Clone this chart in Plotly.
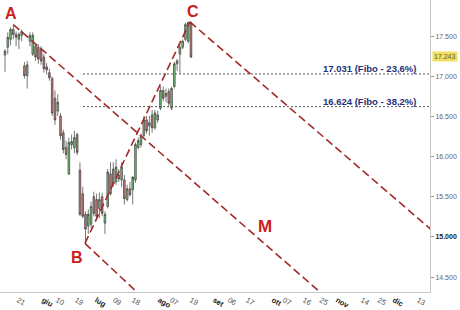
import plotly.graph_objects as go

# ---------------- data ----------------
day = list(range(68))
open_ = [17267, 17365, 17463, 17586, 17524, 17463, 17512, 17132, 17010, 17439,
         17279, 17377, 17365, 17341, 17243, 17120, 17047, 16973, 16728, 16569,
         16508, 16299, 16115, 15784, 16152, 16115, 16275, 15833, 15539, 15282,
         15135, 15159, 15502, 15466, 15356, 15502, 15172, 15380, 15784, 15846,
         15686, 15772, 15711, 15711, 15466, 15600, 15588, 15711, 16115, 16152,
         16262, 16458, 16385, 16520, 16360, 16458, 16605, 16826, 16752, 16814,
         16605, 16875, 17157, 17279, 17365, 17463, 17439, 17672]
high = [17341, 17549, 17610, 17647, 17561, 17549, 17586, 17181, 17194, 17549,
        17549, 17414, 17402, 17377, 17279, 17169, 17096, 16998, 16826, 16777,
        16544, 16336, 16201, 16238, 16275, 16324, 16299, 15931, 15625, 15319,
        15343, 15441, 15564, 15539, 15551, 15551, 15319, 15846, 15931, 15931,
        15968, 15846, 15931, 15772, 15650, 15686, 15723, 16176, 16238, 16287,
        16508, 16508, 16508, 16581, 16581, 16569, 16875, 16875, 16850, 16850,
        16875, 17181, 17218, 17402, 17463, 17672, 17684, 17684]
low = [17059, 17279, 17390, 17463, 17377, 17341, 17439, 16973, 16850, 17377,
       17255, 17194, 17157, 17145, 17047, 17022, 16948, 16508, 16397, 16508,
       16213, 16042, 15968, 15772, 16091, 16042, 16017, 15257, 15233, 14951,
       15037, 15110, 15257, 15208, 15233, 15257, 15037, 15356, 15515, 15625,
       15650, 15686, 15625, 15405, 15441, 15502, 15405, 15674, 16091, 16115,
       16238, 16287, 16262, 16299, 16336, 16422, 16581, 16691, 16679, 16630,
       16581, 16850, 17071, 17034, 17341, 17439, 17414, 17230]
close = [17316, 17488, 17586, 17524, 17488, 17524, 17561, 17010, 17145, 17512,
         17512, 17243, 17218, 17194, 17096, 17083, 16985, 16544, 16458, 16679,
         16262, 16091, 16029, 16176, 16189, 16238, 16054, 15282, 15257, 15098,
         15282, 15380, 15294, 15257, 15466, 15294, 15282, 15809, 15539, 15662,
         15870, 15723, 15870, 15478, 15600, 15527, 15748, 16152, 16201, 16262,
         16458, 16324, 16422, 16360, 16544, 16520, 16826, 16728, 16789, 16667,
         16850, 17157, 17194, 17365, 17439, 17647, 17672, 17243]

last_price = 17243
fibo_levels = [17031, 16624]
fibo_labels = ["17.031 (Fibo - 23,6%)", "16.624 (Fibo - 38,2%)"]

# trend / channel lines (endpoints in day, price)
line_A = ([2.99, 115.0], [17647, 14267])
line_BC = ([28.8, 66.6], [14920, 17680])
line_B = ([28.8, 48.2], [14920, 14290])
line_C = ([66.6, 154.0], [17680, 15077])

wave_labels = ["A", "B", "C", "M"]
wave_x = [2.2, 25.8, 67.7, 93.5]
wave_y = [17782, 14743, 17806, 15129]

x_tickvals = [4.7, 13.7, 18.7, 25.6, 32.8, 39.3, 46.1, 55.5, 59.8, 67.0, 75.3,
              80.7, 87.2, 96.5, 100.5, 107.7, 113.8, 119.6, 128.6, 134.7, 140.1, 148.8]
x_ticklabels = ["21", "giu", "10", "19", "lug", "09", "18", "ago", "07", "19", "set",
                "06", "17", "ott", "07", "16", "25", "nov", "14", "25", "dic", "13"]
months = {"giu", "lug", "ago", "set", "ott", "nov", "dic"}

y_tickvals = [14500, 15000, 15500, 16000, 16500, 17000, 17500]
y_ticklabels = ["14.500", "15.000", "15.500", "16.000", "16.500", "17.000", "17.500"]

x_range = [-1.8, 153.1]
y_range = [14314, 17953]

# ---------------- figure ----------------
FONT = "Liberation Sans, Arial, sans-serif"
LINE_RED = "#a32a2a"

fig = go.Figure()

fig.add_trace(go.Candlestick(
    x=day, open=open_, high=high, low=low, close=close,
    increasing=dict(fillcolor="#74c474", line=dict(color="#3c3c3c", width=0.7)),
    decreasing=dict(fillcolor="#c77a7a", line=dict(color="#3c3c3c", width=0.7)),
    whiskerwidth=0, showlegend=False, hoverinfo="skip",
))

for lv in fibo_levels:
    fig.add_trace(go.Scatter(
        x=[28.1, x_range[1]], y=[lv, lv], mode="lines",
        line=dict(color="#555555", width=1, dash="2px,2px"),
        showlegend=False, hoverinfo="skip"))

for lx, ly in (line_A, line_BC, line_B, line_C):
    fig.add_trace(go.Scatter(
        x=lx, y=ly, mode="lines",
        line=dict(color=LINE_RED, width=1.6, dash="8px,4px"),
        showlegend=False, hoverinfo="skip"))

for t, x, y in zip(wave_labels, wave_x, wave_y):
    fig.add_annotation(x=x, y=y, text=f"<b>{t}</b>", showarrow=False,
                       font=dict(family=FONT, size=17 if t == "M" else 16, color="#cc2020"),
                       xanchor="center", yanchor="middle")

for lv, txt, yoff in zip(fibo_levels, fibo_labels, [17096, 16691]):
    fig.add_annotation(x=148.8, y=yoff, text=f"<b>{txt}</b>", showarrow=False,
                       font=dict(family=FONT, size=9.5, color="#26307a"),
                       xanchor="right", yanchor="middle")

fig.add_annotation(xref="paper", x=1, y=last_price, text="17.243", showarrow=False,
                   xanchor="left", yanchor="middle", xshift=2,
                   bgcolor="#f0e060", borderpad=1,
                   font=dict(family=FONT, size=7, color="#5a5a3a"))

tick_text_x = [f"<b><span style='color:#222'>{t}</span></b>" if t in months else t
               for t in x_ticklabels]
tick_text_y = [f"<b><span style='color:#222'>{t}</span></b>" if t == "15.000" else t
               for t in y_ticklabels]

fig.update_layout(
    width=460, height=310,
    margin=dict(l=0, r=30, t=0, b=13, pad=0),
    paper_bgcolor="white", plot_bgcolor="white",
    font=dict(family=FONT, size=7, color="#666666"),
    boxgap=0.15,
    xaxis=dict(range=x_range, rangeslider=dict(visible=False), showgrid=False,
               zeroline=False, showline=True, linecolor="#c8c8c8", linewidth=1,
               ticks="", tickmode="array", tickvals=x_tickvals, ticktext=tick_text_x,
               tickfont=dict(size=7.5, color="#555555"), fixedrange=True),
    yaxis=dict(range=y_range, side="right", showgrid=False, zeroline=False,
               showline=True, linecolor="#c8c8c8", linewidth=1,
               ticks="outside", ticklen=3, tickcolor="#999999",
               tickmode="array", tickvals=y_tickvals, ticktext=tick_text_y,
               tickfont=dict(size=7, color="#666666"), fixedrange=True),
    showlegend=False,
)

fig.write_html("out.html")
